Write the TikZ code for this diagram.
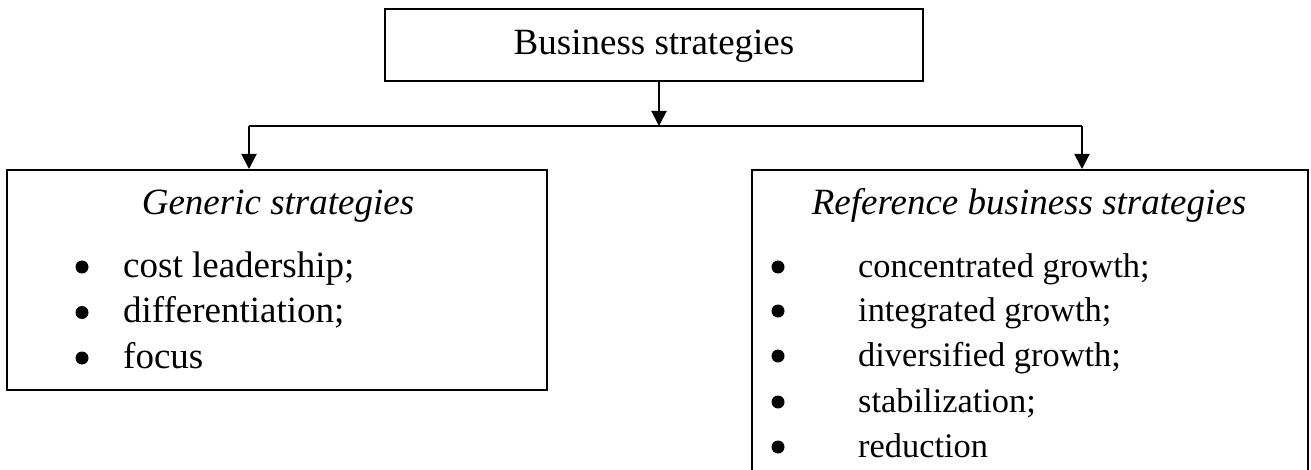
\documentclass[tikz,border=0pt]{standalone}
\usepackage{fontspec}
\setmainfont{Liberation Serif}
\usetikzlibrary{arrows.meta}
\begin{document}
\begin{tikzpicture}[x=1pt,y=-1pt,
  frame/.style={draw=black,line width=2pt,rectangle,inner sep=0pt},
  conn/.style={line width=2pt},
  arr/.style={conn,-{Triangle[width=15pt,length=15pt]}},
  txt/.style={font=\fontsize{37}{40}\selectfont,inner sep=0pt},
  item/.style={txt,anchor=base west},
  smallitem/.style={item,font=\fontsize{34.4}{38}\selectfont},
  head/.style={txt,anchor=base,font=\fontsize{37}{40}\selectfont\itshape},
  dot/.style={circle,fill=black,inner sep=0pt,minimum size=13pt}]
\clip (0,0) rectangle (1311,470);
\useasboundingbox (0,0) rectangle (1311,470);

% top box
\node[frame,minimum width=538pt,minimum height=72pt] (top) at (654,45) {};
\node[txt,anchor=base] (toptext) at (654,55) {Business strategies};

% left box
\node[frame,minimum width=540pt,minimum height=220pt] (lbox) at (277,280) {};
\node[head] (lhead) at (278,215) {Generic strategies};
\node[dot] (lb1) at (82,267) {};
\node[dot] (lb2) at (82,312.5) {};
\node[dot] (lb3) at (82,358) {};
\node[item] (li1) at (123,277) {cost leadership;};
\node[item] (li2) at (123,322.5) {differentiation;};
\node[item] (li3) at (123,368) {focus};

% right box (runs past the lower edge)
\node[frame,minimum width=556pt,minimum height=340pt] (rbox) at (1030,340) {};
\node[head] (rhead) at (1029,215) {Reference business strategies};
\node[dot] (rb1) at (778,267) {};
\node[dot] (rb2) at (778,311) {};
\node[dot] (rb3) at (778,356) {};
\node[dot] (rb4) at (778,402) {};
\node[dot] (rb5) at (778,447) {};
\node[smallitem] (ri1) at (858,277) {concentrated growth;};
\node[smallitem] (ri2) at (858,321) {integrated growth;};
\node[smallitem] (ri3) at (858,366) {diversified growth;};
\node[smallitem] (ri4) at (858,412) {stabilization;};
\node[smallitem] (ri5) at (858,457) {reduction};

% connectors
\coordinate (j)  at (659,126);
\coordinate (jl) at (249,126);
\coordinate (jr) at (1082,126);
\draw[arr] (top.south -| j) -- (j);
\draw[conn] (jl) -- (jr);
\draw[arr] (jl) -- (jl |- lbox.north);
\draw[arr] (jr) -- (jr |- rbox.north);
\end{tikzpicture}
\end{document}
